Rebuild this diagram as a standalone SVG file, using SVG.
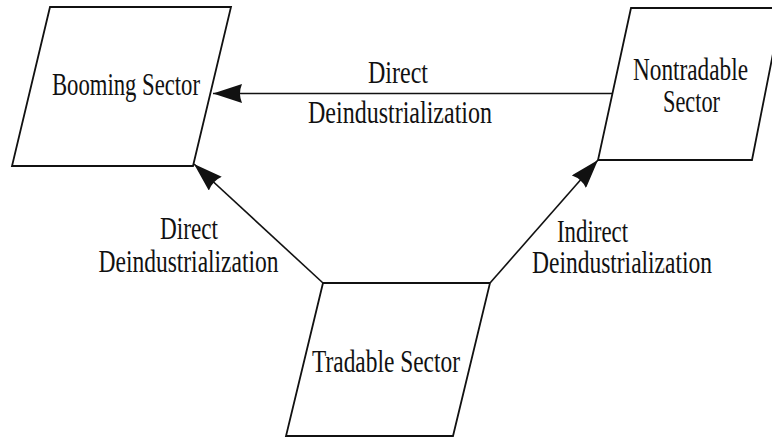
<svg xmlns="http://www.w3.org/2000/svg" width="772" height="439" viewBox="0 0 772 439">
<style>
.box{fill:#fff;stroke:#111;stroke-width:1.8;stroke-linejoin:miter}
.t{font-family:'Liberation Serif',serif;font-size:32px;fill:#111;text-anchor:middle}
.c{fill:none;stroke:#111;stroke-width:1.6}
</style>
<defs>
<marker id="ah" viewBox="0 0 29 19" refX="29" refY="9.5" markerWidth="29" markerHeight="19" orient="auto" markerUnits="userSpaceOnUse">
<path d="M0,0 L29,9.5 L0,19 Q4,9.5 0,0 z" fill="#111"/>
</marker>
</defs>
<rect width="772" height="439" fill="#fff"/>
<g id="booming">
<polygon class="box" points="50,7 231,7 193,166 12,166"/>
<text class="t" x="126" y="95" textLength="148" lengthAdjust="spacingAndGlyphs">Booming Sector</text>
</g>
<g id="nontradable">
<polygon class="box" points="631,8 782,8 752,160 598,160"/>
<text class="t" x="690.5" y="80" textLength="115" lengthAdjust="spacingAndGlyphs">Nontradable</text>
<text class="t" x="691.5" y="112" textLength="57" lengthAdjust="spacingAndGlyphs">Sector</text>
</g>
<g id="tradable">
<polygon class="box" points="323,283 490,283 453,436 286,436"/>
<text class="t" x="386" y="372" textLength="148" lengthAdjust="spacingAndGlyphs">Tradable Sector</text>
</g>
<g id="connectors">
<line class="c" x1="612" y1="93.5" x2="213" y2="93.5" marker-end="url(#ah)"/>
<line class="c" x1="323" y1="283" x2="194" y2="164" marker-end="url(#ah)"/>
<line class="c" x1="490" y1="283" x2="598" y2="160" marker-end="url(#ah)"/>
</g>
<g id="labels">
<text class="t" x="398" y="83" textLength="60" lengthAdjust="spacingAndGlyphs">Direct</text>
<text class="t" x="400" y="123" textLength="184" lengthAdjust="spacingAndGlyphs">Deindustrialization</text>
<text class="t" x="189" y="239" textLength="58" lengthAdjust="spacingAndGlyphs">Direct</text>
<text class="t" x="188.5" y="272" textLength="180" lengthAdjust="spacingAndGlyphs">Deindustrialization</text>
<text class="t" x="592.5" y="242" textLength="71" lengthAdjust="spacingAndGlyphs">Indirect</text>
<text class="t" x="622" y="273" textLength="180" lengthAdjust="spacingAndGlyphs">Deindustrialization</text>
</g>
</svg>
